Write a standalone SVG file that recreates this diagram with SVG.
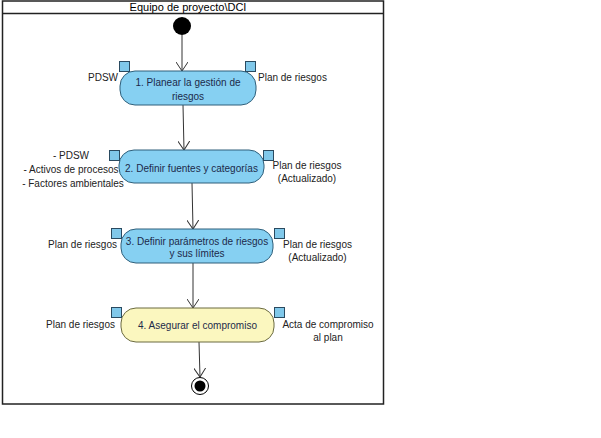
<svg xmlns="http://www.w3.org/2000/svg" width="601" height="438" viewBox="0 0 601 438">
<defs>
<style>
text{font-family:"Liberation Sans",Arial,sans-serif;font-size:10px;fill:#222;}
.hdr{font-size:11px;fill:#000;}
.nt{fill:#1c2a4a;}
.act{fill:#86d0f2;stroke:#2f5f7a;stroke-width:1;}
.act4{fill:#fbf7bf;stroke:#6a6a40;stroke-width:1;}
.pin{fill:#80c8ea;stroke:#2a4a60;stroke-width:1;}
.c{text-anchor:middle;}
.r{text-anchor:end;}
.edge{stroke:#333;stroke-width:1;fill:none;marker-end:url(#arr);}
</style>
<marker id="arr" viewBox="0 0 10 12" refX="9" refY="6" markerWidth="10" markerHeight="12" markerUnits="userSpaceOnUse" orient="auto">
<path d="M0,0 L9,6 L0,12" fill="none" stroke="#333" stroke-width="1"/>
</marker>
</defs>
<rect width="601" height="438" fill="#fff"/>
<g id="frame">
<rect x="2.5" y="1" width="381" height="403" fill="none" stroke="#222" stroke-width="1.5"/>
<line x1="2.5" y1="13.5" x2="383.5" y2="13.5" stroke="#222" stroke-width="1.5"/>
<text class="hdr c" x="188" y="11">Equipo de proyecto\DCI</text>
</g>
<g id="connectors">
<line class="edge" x1="182" y1="35" x2="182" y2="71"/>
<line class="edge" x1="183" y1="105" x2="184" y2="150"/>
<line class="edge" x1="192" y1="183" x2="193" y2="229"/>
<line class="edge" x1="193" y1="263" x2="193" y2="308"/>
<line class="edge" x1="199" y1="342" x2="200" y2="377"/>
</g>
<g id="start">
<circle cx="182" cy="26" r="9" fill="#000"/>
</g>
<g id="act1">
<rect class="act" x="120" y="71" width="136" height="34" rx="15" ry="15"/>
<text class="c nt" x="188" y="85.5">1. Planear la gestión de</text>
<text class="c nt" x="188" y="99.5">riesgos</text>
<rect class="pin" x="119.5" y="61.5" width="10" height="10"/>
<rect class="pin" x="245.5" y="61.5" width="10" height="10"/>
<text class="r" x="118" y="81">PDSW</text>
<text x="258" y="81">Plan de riesgos</text>
</g>
<g id="act2">
<rect class="act" x="119" y="150" width="145" height="33" rx="15" ry="15"/>
<text class="c nt" x="191.5" y="171.5">2. Definir fuentes y categorías</text>
<rect class="pin" x="109.5" y="150.5" width="10" height="10"/>
<rect class="pin" x="263.5" y="150.5" width="10" height="10"/>
<text class="c" x="71" y="159">- PDSW</text>
<text class="c" x="71" y="173">- Activos de procesos</text>
<text class="c" x="73" y="186.5">- Factores ambientales</text>
<text class="c" x="307" y="168.5">Plan de riesgos</text>
<text class="c" x="307" y="182">(Actualizado)</text>
</g>
<g id="act3">
<rect class="act" x="121" y="229" width="152" height="34" rx="15" ry="15"/>
<text class="c nt" x="197" y="244.5">3. Definir parámetros de riesgos</text>
<text class="c nt" x="197" y="257">y sus límites</text>
<rect class="pin" x="111.5" y="228.5" width="10" height="10"/>
<rect class="pin" x="274.5" y="228.5" width="10" height="10"/>
<text class="r" x="117" y="247.5">Plan de riesgos</text>
<text class="c" x="317.5" y="247.5">Plan de riesgos</text>
<text class="c" x="317.5" y="261">(Actualizado)</text>
</g>
<g id="act4">
<rect class="act4" x="121" y="308" width="153" height="34" rx="15" ry="15"/>
<text class="c nt" x="197.5" y="328.5">4. Asegurar el compromiso</text>
<rect class="pin" x="111.5" y="307.5" width="10" height="10"/>
<rect class="pin" x="274.5" y="307.5" width="10" height="10"/>
<text class="r" x="115" y="327.5">Plan de riesgos</text>
<text class="c" x="328" y="327.5">Acta de compromiso</text>
<text class="c" x="328" y="340.5">al plan</text>
</g>
<g id="end">
<circle cx="200" cy="386" r="8.5" fill="#fff" stroke="#000" stroke-width="1"/>
<circle cx="200" cy="386" r="5.5" fill="#000"/>
</g>
</svg>
